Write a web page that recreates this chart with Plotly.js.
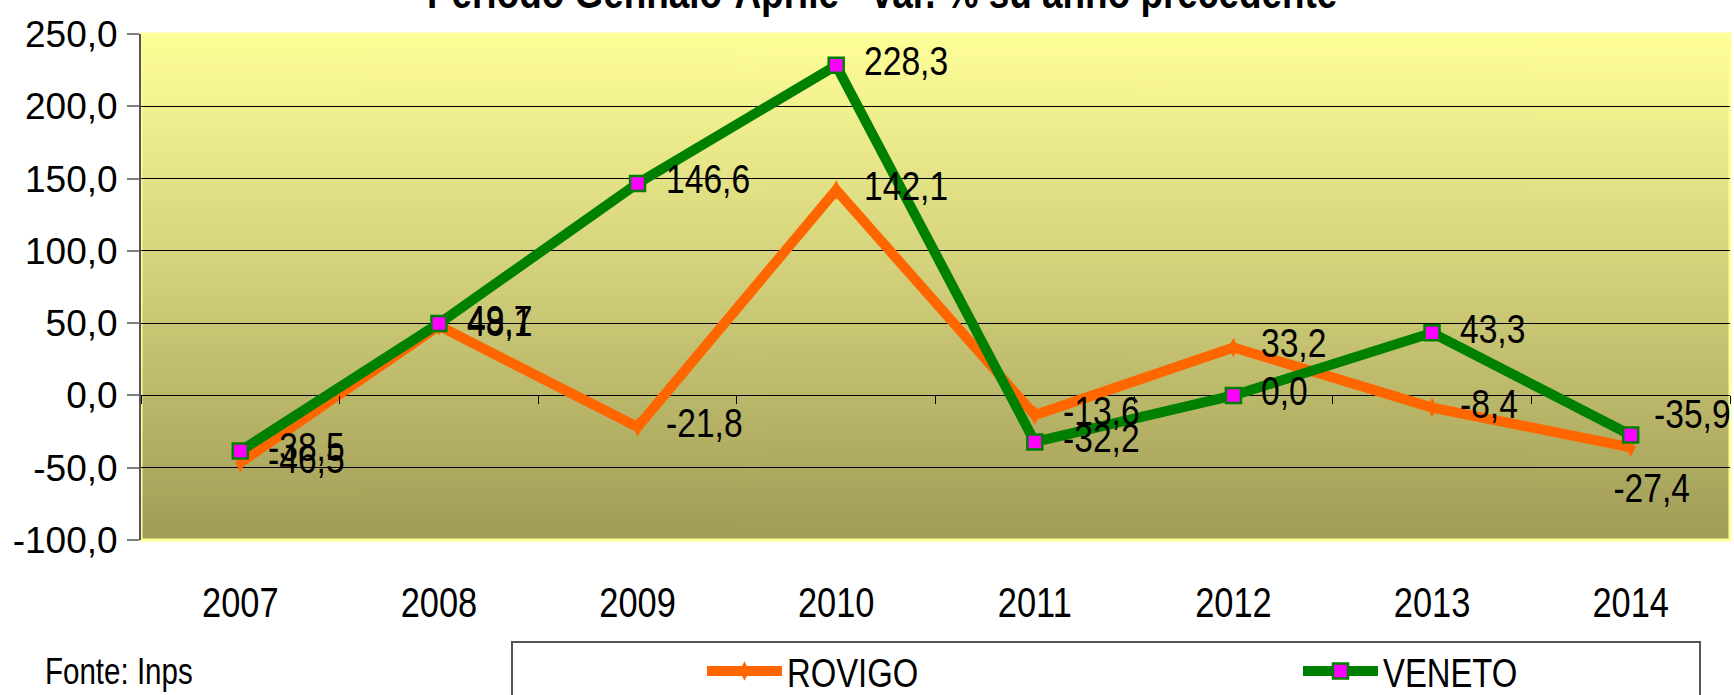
<!DOCTYPE html>
<html><head><meta charset="utf-8">
<script src="https://cdn.plot.ly/plotly-3.0.1.min.js"></script>
<style>html,body{margin:0;padding:0;background:#fff}#chart{width:1734px;height:695px}</style>
</head><body><div id="chart"></div>
<script>
// ---- data ----
const years  = ['2007','2008','2009','2010','2011','2012','2013','2014'];
const rovigo = [-46.5, 48.1, -21.8, 142.1, -13.6, 33.2, -8.4, -35.9];
const veneto = [-38.5, 49.7, 146.6, 228.3, -32.2, 0.0, 43.3, -27.4];
const seriesNames = ['ROVIGO', 'VENETO'];
const yTickVals   = [-100, -50, 0, 50, 100, 150, 200, 250];
const yTickLabels = ['-100,0', '-50,0', '0,0', '50,0', '100,0', '150,0', '200,0', '250,0'];
const titleText  = 'Periodo Gennaio-Aprile - var. % su anno precedente';
const sourceText = 'Fonte: Inps';

// ---- label placement (style, pixel offsets of each value label from its point) ----
const rovigoLabelDX = [27, 27, 27, 27, 27, 27, 27, 22];
const rovigoLabelDY = [4, 4, 4, 4, 4, 4, 4, 33];
const rovigoLabelAnchor = ['left','left','left','left','left','left','left','left'];
const venetoLabelDX = [27, 27, 27, 27, 27, 27, 27, 21];
const venetoLabelDY = [4, 4, 4, 4, 4, 4, 4, -53];
const venetoLabelAnchor = ['left','left','left','left','left','left','left','center'];

const REG = 'Liberation Sans, Arial, sans-serif';
const CONDENSE = 0.82;   // the original uses a narrow face

const fmt = v => v.toFixed(1).replace('.', ',');

// background gradient image
const cv = document.createElement('canvas');
cv.width = 4; cv.height = 256;
const cx = cv.getContext('2d');
const g = cx.createLinearGradient(0, 0, 0, 256);
g.addColorStop(0, '#FFFF99');
g.addColorStop(1, '#A09C58');
cx.fillStyle = g; cx.fillRect(0, 0, 4, 256);
const bgURL = cv.toDataURL('image/png');

const W = 1734, H = 695;
const M = {l:141, r:4, t:34, b:155};
const PW = W - M.l - M.r, PH = H - M.t - M.b;
const px2x = px => (px - M.l) / PW;
const py2y = py => (H - M.b - py) / PH;

const traces = [
  {
    x: years, y: rovigo, name: seriesNames[0], type: 'scatter',
    mode: 'lines+markers',
    line: {color:'#FF6600', width:10},
    marker: {symbol:'diamond-tall', size:14, color:'#FF6600'},
    cliponaxis: false, hoverinfo: 'skip'
  },
  {
    x: years, y: veneto, name: seriesNames[1], type: 'scatter',
    mode: 'lines+markers',
    line: {color:'#008000', width:10},
    marker: {symbol:'square', size:15, color:'#FF00FF', line:{color:'#008000', width:2.5}},
    cliponaxis: false, hoverinfo: 'skip'
  }
];

// value labels: placed at each point through the category axis (index i -> years[i])
const annotations = [];
function addLabels(vals, dx, dy, anch) {
  vals.forEach((v, i) => {
    annotations.push({
      x: i, y: v, xref:'x', yref:'y', text: fmt(v),
      showarrow:false, xanchor: anch[i], yanchor:'middle', align: anch[i],
      xshift: dx[i], yshift: dy[i], borderpad: 0,
      font: {family: REG, size: 41, color:'#000'}
    });
  });
}
addLabels(rovigo, rovigoLabelDX, rovigoLabelDY, rovigoLabelAnchor);
addLabels(veneto, venetoLabelDX, venetoLabelDY, venetoLabelAnchor);
annotations.push({
  text: '<b>' + titleText + '</b>', xref:'paper', yref:'paper',
  x: px2x(882), y: py2y(-8), xanchor:'center', yanchor:'middle', align:'center', showarrow:false,
  font: {family: REG, size: 45, color:'#000'}
});
annotations.push({
  text: sourceText, xref:'paper', yref:'paper',
  x: px2x(44), y: py2y(671), xanchor:'left', yanchor:'middle', align:'left', showarrow:false,
  borderpad: 0,
  font: {family: REG, size: 36, color:'#000'}
});

const layout = {
  width: W, height: H,
  margin: M,
  paper_bgcolor: '#FFFFFF',
  plot_bgcolor: 'rgba(0,0,0,0)',
  showlegend: true,
  font: {family: REG, color:'#000'},
  xaxis: {
    type:'category', categoryorder:'array', categoryarray: years, range:[-0.5, 7.5],
    anchor:'free', position: 100/350,
    showgrid:false, zeroline:false, showline:false,
    ticks:'outside', tickson:'boundaries', ticklen:8, tickcolor:'#000', tickwidth:1,
    tickfont:{family: REG, size:42, color:'#000'},
    ticklabelstandoff: 179,
    fixedrange:true
  },
  yaxis: {
    range:[-100, 250], tickmode:'array', tickvals: yTickVals, ticktext: yTickLabels,
    showgrid:true, gridcolor:'#000', gridwidth:1,
    zeroline:true, zerolinecolor:'#000', zerolinewidth:1,
    showline:true, linecolor:'#555', linewidth:2,
    ticks:'outside', ticklen:12, tickcolor:'#808080', tickwidth:2,
    tickfont:{family: REG, size:37, color:'#000'},
    ticklabelstandoff: 2,
    fixedrange:true
  },
  images: [{
    source: bgURL, xref:'paper', yref:'paper', x:0, y:1, sizex:1, sizey:1,
    sizing:'stretch', layer:'below', xanchor:'left', yanchor:'top'
  }],
  shapes: [
    {type:'rect', xref:'paper', yref:'paper', x0:0, x1:1, y0:0, y1:1,
     line:{color:'#FFFF99', width:3}, fillcolor:'rgba(0,0,0,0)', layer:'below'},
    {type:'rect', xref:'paper', yref:'paper', x0:px2x(512), x1:px2x(1700), y0:py2y(705), y1:py2y(642),
     line:{color:'#555', width:2}, fillcolor:'rgba(0,0,0,0)', layer:'above'}
  ],
  legend: {
    orientation:'h', xref:'container', yref:'container',
    x: 702/W, y: (H-671)/H, xanchor:'left', yanchor:'middle',
    entrywidth: 506, entrywidthmode:'pixels',
    itemwidth: 75,
    font:{family: REG, size:40, color:'#000'},
    bgcolor:'rgba(0,0,0,0)', borderwidth:0, traceorder:'normal'
  },
  annotations: annotations
};

function condense(selector, f) {
  document.querySelectorAll(selector).forEach(t => {
    const w = t.getComputedTextLength();
    if (w > 0) {
      t.setAttribute('textLength', (w * f).toFixed(1));
      t.setAttribute('lengthAdjust', 'spacingAndGlyphs');
    }
  });
}

Plotly.newPlot('chart', traces, layout, {displayModeBar:false, staticPlot:true}).then(() => {
  condense('.xtick text', CONDENSE);
  condense('.legendtext', CONDENSE);
  condense('.annotation-text', CONDENSE);
  // longer, thicker legend line samples as in the original
  document.querySelectorAll('.legendlines path').forEach(p => {
    p.setAttribute('d', 'M5,0h75');
    p.style.strokeWidth = '10px';
  });
  document.querySelectorAll('.legendpoints path.scatterpts').forEach(p => {
    p.setAttribute('transform', 'translate(42.5,0)');
  });
});
</script>
</body></html>
